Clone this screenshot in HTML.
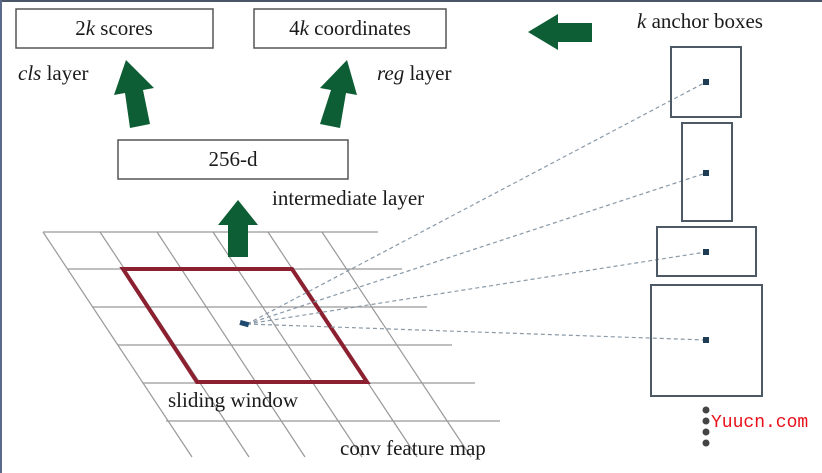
<!DOCTYPE html>
<html><head><meta charset="utf-8"><style>
html,body{margin:0;padding:0;background:#fff;}
svg{display:block;}
text{font-family:"Liberation Serif",serif;fill:#1a1a1a;}
</style></head><body>
<svg width="822" height="473" viewBox="0 0 822 473">
<rect width="822" height="473" fill="#fff"/>
<rect x="0" y="0" width="822" height="2" fill="#4a5568"/>
<rect x="0" y="0" width="2" height="473" fill="#5a6a88"/>
<g stroke="#999" stroke-width="1.2" fill="none">
<line x1="43" y1="232" x2="378" y2="232"/>
<line x1="68" y1="269" x2="402" y2="269"/>
<line x1="93" y1="307" x2="427" y2="307"/>
<line x1="118" y1="345" x2="452" y2="345"/>
<line x1="143" y1="383" x2="475" y2="383"/>
<line x1="166" y1="421" x2="500" y2="421"/>
<line x1="43" y1="232" x2="192" y2="457"/>
<line x1="100" y1="232" x2="249" y2="457"/>
<line x1="157" y1="232" x2="305" y2="457"/>
<line x1="213" y1="232" x2="362" y2="457"/>
<line x1="268" y1="232" x2="417" y2="457"/>
<line x1="322" y1="232" x2="471" y2="457"/>
</g>
<polygon points="123,269 292,269 367,382 197,382" fill="none" stroke="#8b2030" stroke-width="4"/>
<g stroke="#8a9aa8" stroke-width="1.2" stroke-dasharray="4,3" fill="none">
<line x1="247" y1="324" x2="706" y2="82"/>
<line x1="247" y1="324" x2="706" y2="173"/>
<line x1="247" y1="324" x2="706" y2="252"/>
<line x1="247" y1="324" x2="706" y2="340"/>
</g>
<rect x="240" y="321" width="9" height="5" fill="#1e4a70" transform="rotate(15 244 323)"/>
<g fill="none" stroke="#4d5a66" stroke-width="2">
<rect x="671" y="47" width="70" height="70"/>
<rect x="682" y="123" width="50" height="98"/>
<rect x="657" y="227" width="99" height="49"/>
<rect x="651" y="285" width="111" height="111"/>
</g>
<g fill="#1e3d55">
<rect x="703" y="79" width="6" height="6"/>
<rect x="703" y="170" width="6" height="6"/>
<rect x="703" y="249" width="6" height="6"/>
<rect x="703" y="337" width="6" height="6"/>
</g>
<g fill="#444">
<circle cx="706" cy="410" r="3.5"/><circle cx="706" cy="421" r="3.5"/>
<circle cx="706" cy="432" r="3.5"/><circle cx="706" cy="443" r="3.5"/>
</g>
<text x="711" y="427" font-size="18" style="fill:#e8101a;font-family:'Liberation Mono',monospace">Yuucn.com</text>
<g fill="#fff" stroke="#555" stroke-width="1.5">
<rect x="16" y="9" width="197" height="39"/>
<rect x="254" y="9" width="192" height="39"/>
<rect x="118" y="140" width="230" height="39"/>
</g>
<text x="114" y="35" font-size="21" text-anchor="middle">2<tspan font-style="italic">k</tspan> scores</text>
<text x="350" y="35" font-size="21" text-anchor="middle">4<tspan font-style="italic">k</tspan> coordinates</text>
<text x="233" y="166" font-size="21" text-anchor="middle">256-d</text>
<text x="18" y="80" font-size="21"><tspan font-style="italic">cls</tspan> layer</text>
<text x="377" y="80" font-size="21"><tspan font-style="italic">reg</tspan> layer</text>
<text x="272" y="205" font-size="21">intermediate layer</text>
<text x="637" y="28" font-size="21"><tspan font-style="italic">k</tspan> anchor boxes</text>
<text x="168" y="407" font-size="21">sliding window</text>
<text x="340" y="455" font-size="21">conv feature map</text>
<g fill="#0d5e34">
<polygon points="228,257 248,257 248,225 258,225 238,200 218,225 228,225"/>
<polygon points="130,128 150,124 143,90 154,88 126,60 114,95 125,93"/>
<polygon points="320,124 340,128 346,93 357,95 347,60 320,88 331,90"/>
<polygon points="592,23 592,42 558,42 558,50 528,32 558,14 558,23"/>
</g>
</svg>
</body></html>
